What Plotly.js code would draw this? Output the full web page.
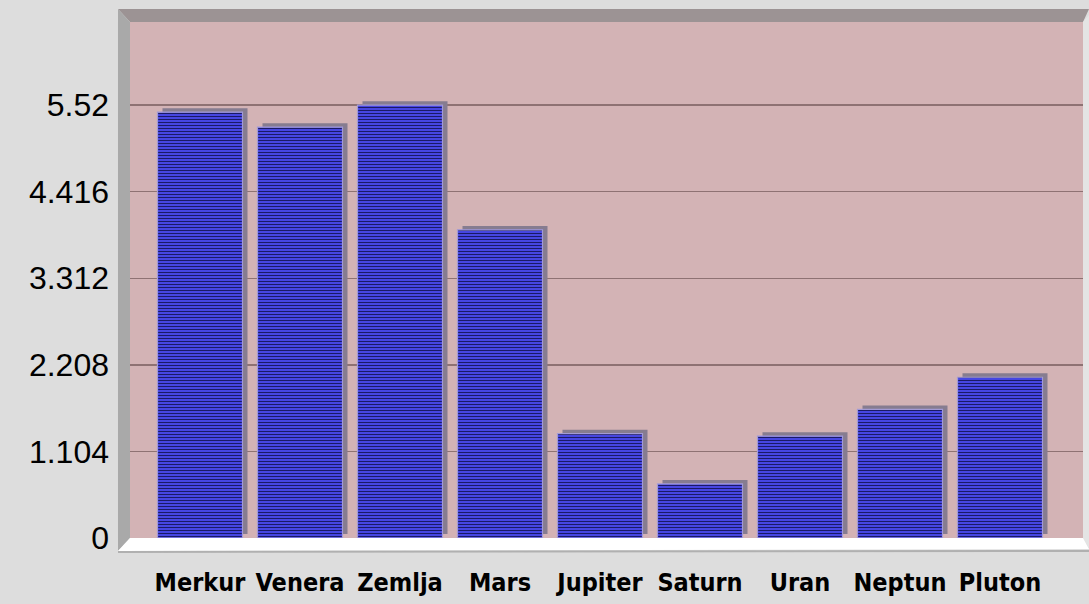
<!DOCTYPE html>
<html>
<head>
<meta charset="utf-8">
<script src="https://cdn.plot.ly/plotly-3.0.1.min.js"></script>
<style>
html,body{margin:0;padding:0;background:#dddddd;}
#chart{width:1089px;height:604px;}
</style>
</head>
<body>
<div id="chart"></div>
<script>
const planets = ["Merkur","Venera","Zemlja","Mars","Jupiter","Saturn","Uran","Neptun","Pluton"];
const density = [5.43, 5.24, 5.52, 3.93, 1.33, 0.69, 1.30, 1.64, 2.05];
const yTickVals = [0, 1.104, 2.208, 3.312, 4.416, 5.52];
const yTickText = ["0", "1.104", "2.208", "3.312", "4.416", "5.52"];

const W = 1089, H = 604;
const L = 130, R = 1083, T = 22, B = 538;
function px(x){ return (x - L) / (R - L); }
function py(y){ return (B - y) / (B - T); }
function path(pts){
  return pts.map((p,i)=>(i?'L':'M')+px(p[0]).toFixed(4)+','+py(p[1]).toFixed(4)).join(' ')+' Z';
}

const shapes = [
  {type:'path', xref:'paper', yref:'paper', layer:'above',
   path: path([[118,9],[1089,9],[1083,22],[130,22]]),
   fillcolor:'#9c9394', line:{width:0}},
  {type:'path', xref:'paper', yref:'paper', layer:'above',
   path: path([[118,9],[130,22],[130,538],[118,551]]),
   fillcolor:'#a9a9a9', line:{width:0}},
  {type:'path', xref:'paper', yref:'paper', layer:'above',
   path: path([[1083,22],[1089,15],[1089,548],[1083,538]]),
   fillcolor:'#e4e4e4', line:{width:0}},
  {type:'path', xref:'paper', yref:'paper', layer:'above',
   path: path([[130,538],[1083,538],[1089,549],[118,551]]),
   fillcolor:'#ffffff', line:{width:0}},
  {type:'line', xref:'paper', yref:'paper', layer:'above',
   x0:px(118), x1:px(1089), y0:py(552), y1:py(551),
   line:{color:'#b0b0b0', width:2}}
];

const BW = 0.85;
const shadow = {
  type:'bar', x: planets, y: density,
  base: 0.05, width: BW, offset: -BW/2 + 0.05,
  marker:{color:'#867c90', line:{width:0}},
  hoverinfo:'skip'
};
const front = {
  type:'bar', x: planets, y: density,
  width: BW, offset: -BW/2,
  marker:{
    color:'#3c3ce6',
    pattern:{shape:'-', fgcolor:'#1a1a66', bgcolor:'#4a4af0', size:3, solidity:0.4},
    line:{color:'#a29ad6', width:1.2}
  },
  hoverinfo:'x+y'
};

const layout = {
  width:W, height:H,
  margin:{l:L, r:W-R, t:T, b:H-B, pad:0},
  paper_bgcolor:'#dddddd',
  plot_bgcolor:'#d3b3b5',
  barmode:'overlay',
  showlegend:false,
  font:{family:'Liberation Sans, Arial, sans-serif', color:'#000'},
  xaxis:{
    type:'category',
    range:[-0.7, 8.83],
    showgrid:false, zeroline:false, showline:false,
    ticks:'', ticklabelstandoff:27,
    tickfont:{family:'DejaVu Sans Condensed, Liberation Sans, sans-serif', size:25, color:'#000', weight:'bold'}
  },
  yaxis:{
    range:[0, 6.58],
    tickvals:yTickVals, ticktext:yTickText,
    showgrid:true, gridcolor:'#8e7273', gridwidth:1.5,
    zeroline:false, showline:false,
    ticks:'', ticklabelstandoff:20,
    tickfont:{family:'Liberation Sans, Arial, sans-serif', size:32, color:'#000'}
  },
  shapes: shapes
};

Plotly.newPlot('chart', [shadow, front], layout, {displayModeBar:false, staticPlot:true});
</script>
</body>
</html>
